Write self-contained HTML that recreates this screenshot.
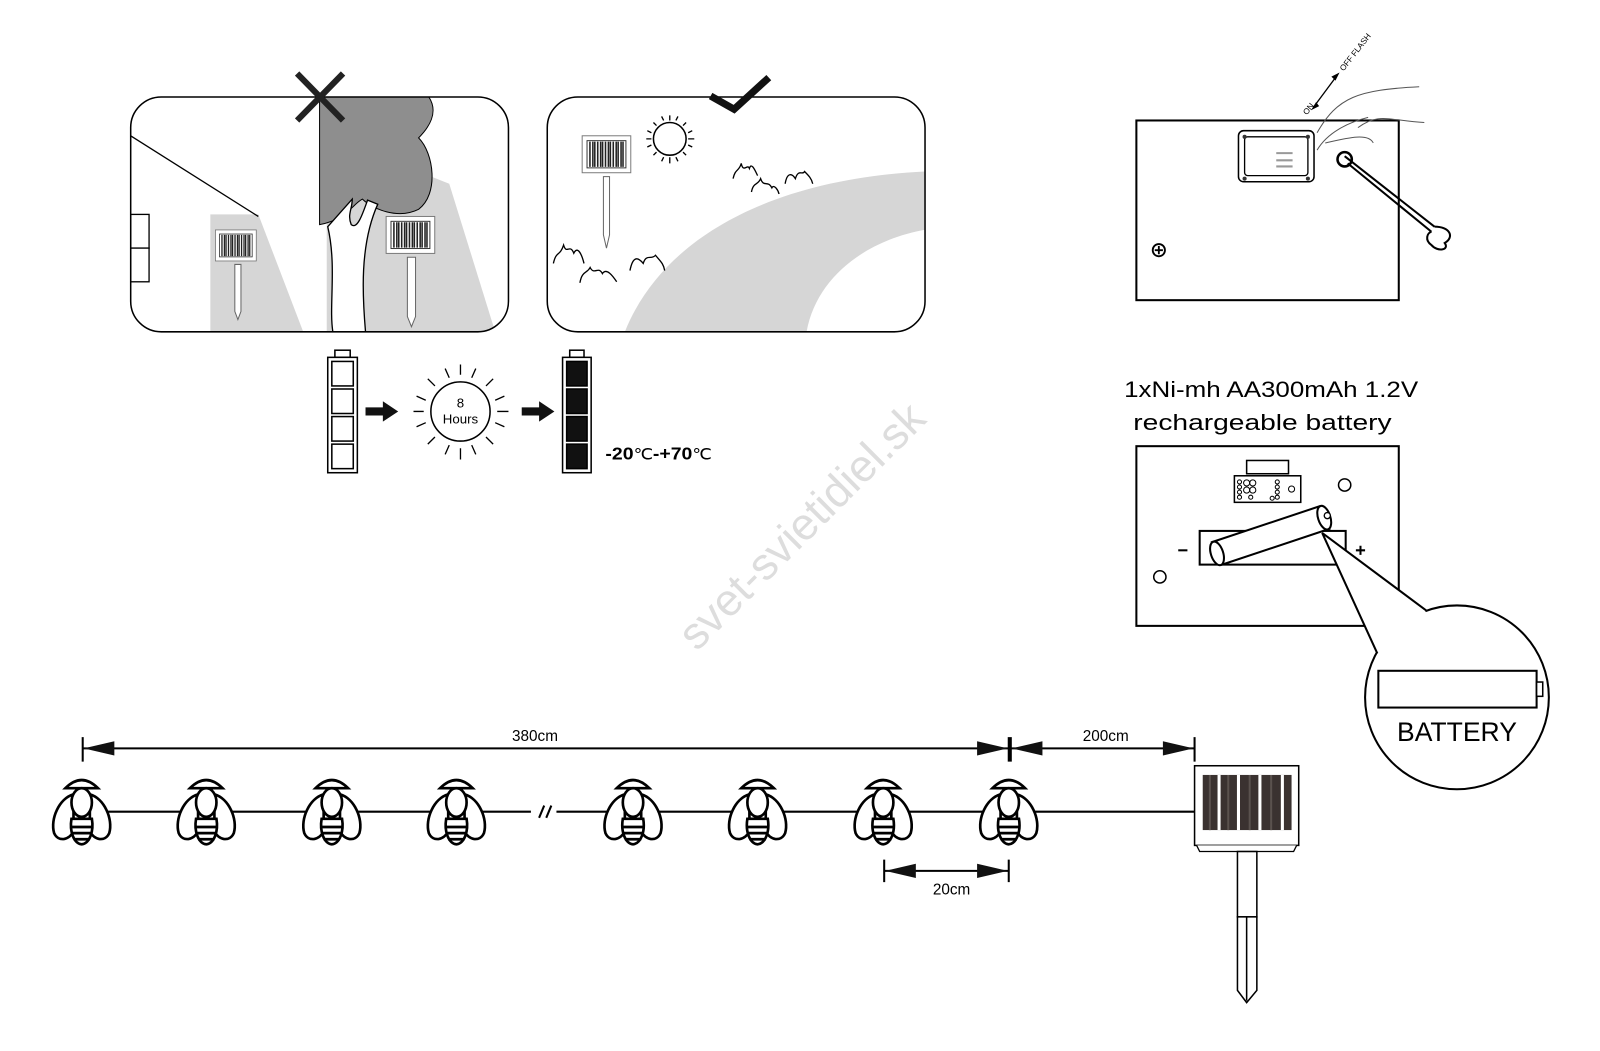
<!DOCTYPE html>
<html><head><meta charset="utf-8"><style>
html,body{margin:0;padding:0;background:#fff;}
svg{display:block;font-family:"Liberation Sans",sans-serif;}
</style></head><body>
<svg width="1600" height="1051" viewBox="0 0 1600 1051" xmlns="http://www.w3.org/2000/svg">
<defs>
<symbol id="bee" viewBox="-30 -36 60 72" overflow="visible">
  <g fill="#fff" stroke="#000" stroke-width="2.6">
    <path d="M-16,-22 Q0,-38 16,-22 Z" />
    <path d="M-8,-16 C-22,-12 -31,8 -27,22 C-23,31 -12,29 -8,20 Z"/>
    <path d="M8,-16 C22,-12 31,8 27,22 C23,31 12,29 8,20 Z"/>
    <path d="M-10,8 C-12,20 -8,32 0,33 C8,32 12,20 10,8 Z"/>
    <ellipse cx="0" cy="-8" rx="10" ry="14"/>
    <path d="M-10,16 H10 M-10,22 H10 M-8,28 H8" fill="none"/>
  </g>
</symbol>
<symbol id="panel" viewBox="0 0 50 42" overflow="visible">
  <rect x="0" y="0" width="50" height="38" fill="#fff" stroke="#777" stroke-width="1"/>
  <rect x="5" y="5" width="40" height="28" fill="#fff" stroke="#333"/>
  <path d="M8,6V32M11,6V32M13,6V32M16,6V32M19,6V32M21,6V32M24,6V32M27,6V32M29,6V32M32,6V32M35,6V32M37,6V32M40,6V32M42,6V32" stroke="#222" stroke-width="1.6"/>
</symbol>
<clipPath id="c1"><rect x="128" y="95" width="370" height="230" rx="30"/></clipPath>
<clipPath id="c2"><rect x="536" y="95" width="370" height="230" rx="30"/></clipPath>
</defs>
<g transform="scale(1.021)">

<g>
  <rect x="128" y="95" width="370" height="230" rx="30" fill="#fff"/>
  <g clip-path="url(#c1)">
    <path d="M206,210 H253 L297,325 H206 Z" fill="#d6d6d6"/>
    <path d="M415,170 L440,180 L485,325 H320 L320,200 Z" fill="#d6d6d6"/>
    <path d="M313,95 H420 C430,110 420,125 410,135 C425,150 430,190 410,205 C390,215 365,205 355,195 C345,200 340,215 313,220 Z" fill="#8e8e8e" stroke="#000" stroke-width="1"/>
    <path d="M321,222 C330,260 322,300 326,325 H358 C355,290 352,240 370,200 L360,196 C355,210 350,225 344,220 C340,210 345,205 345,195 Z" fill="#fff" stroke="#000" stroke-width="1.3"/>
    <path d="M128,133 L253,212" stroke="#000" stroke-width="1.3"/>
    <rect x="128" y="210" width="18" height="33" fill="#fff" stroke="#000" stroke-width="1.3"/>
    <rect x="128" y="243" width="18" height="33" fill="#fff" stroke="#000" stroke-width="1.3"/>
    <use href="#panel" x="211" y="225" width="40" height="34"/>
    <path d="M230,259 V305 L233,313 L236,305 V259 Z" fill="#fff" stroke="#666"/>
    <use href="#panel" x="378" y="212" width="48" height="40"/>
    <path d="M399,252 V310 L403,320 L407,310 V252 Z" fill="#fff" stroke="#666"/>
  </g>
  <rect x="128" y="95" width="370" height="230" rx="30" fill="none" stroke="#000" stroke-width="1.5"/>
  <path d="M291,72 L336,118 M336,72 L291,118" stroke="#222" stroke-width="6"/>
</g>

<g>
  <g clip-path="url(#c2)">
    <path d="M612,325 C650,230 760,175 906,168 V225 C850,235 800,270 790,325 Z" fill="#d6d6d6"/>
    <use href="#panel" x="569" y="133" width="50" height="40"/>
    <path d="M591,173 V230 L594,243 L597,230 V173 Z" fill="#fff" stroke="#666"/>
    <circle cx="656" cy="136" r="16" fill="#fff" stroke="#000" stroke-width="1.5"/>
    <g stroke="#000" stroke-width="1.3">
      <path d="M656,113V118M656,154V160M633,136H638M674,136H680M640,120L643,123M669,149L672,152M672,120L669,123M640,152L643,149M648,114L650,118M664,114L662,118M648,158L650,154M664,158L662,154M634,128L638,130M634,144L638,142M678,128L674,130M678,144L674,142"/>
    </g>
    <g fill="none" stroke="#000" stroke-width="1.3">
      <path d="M718,175 C720,165 724,168 726,160 C728,170 732,160 734,165 C736,158 740,168 742,172"/>
      <path d="M736,188 C738,178 742,182 745,175 C748,184 752,176 756,184 C758,180 762,186 763,190"/>
      <path d="M769,180 C771,168 776,170 779,175 C782,165 786,172 788,168 C792,172 795,175 796,180"/>
      <path d="M542,258 C545,245 548,252 552,240 C555,250 558,238 562,248 C566,240 570,250 572,258"/>
      <path d="M568,277 C570,265 575,268 578,262 C582,270 586,260 590,268 C594,262 600,270 604,276"/>
      <path d="M617,265 C620,250 625,252 630,258 C633,248 638,255 642,250 C646,255 650,258 651,265"/>
    </g>
  </g>
  <rect x="536" y="95" width="370" height="230" rx="30" fill="none" stroke="#000" stroke-width="1.5"/>
  <path d="M696,94 L719,107 L753,76" fill="none" stroke="#111" stroke-width="7"/>
</g>

<g stroke="#000" stroke-width="1.5" fill="#fff">
  <rect x="328" y="343" width="15" height="7"/>
  <rect x="321" y="350" width="29" height="113"/>
  <rect x="325" y="354" width="21" height="24"/>
  <rect x="325" y="381" width="21" height="24"/>
  <rect x="325" y="408" width="21" height="24"/>
  <rect x="325" y="435" width="21" height="24"/>
  <rect x="558" y="343" width="14" height="7"/>
  <rect x="551" y="350" width="28" height="113"/>
  <rect x="555" y="354" width="20" height="24" fill="#111"/>
  <rect x="555" y="381" width="20" height="24" fill="#111"/>
  <rect x="555" y="408" width="20" height="24" fill="#111"/>
  <rect x="555" y="435" width="20" height="24" fill="#111"/>
  <circle cx="451" cy="403" r="29"/>
</g>
<g stroke="#000" stroke-width="1.3">
  <path d="M451,357V367M451,439V450M405,403H415M487,403H498M419,371L426,378M476,428L483,435M483,371L476,378M419,435L426,428M436,361L440,370M466,361L462,370M436,445L440,436M466,445L462,436M408,388L417,392M408,418L417,414M494,388L485,392M494,418L485,414"/>
</g>
<path d="M358,399 H375 V393 L390,403 L375,413 V407 H358 Z" fill="#111"/>
<path d="M511,399 H528 V393 L543,403 L528,413 V407 H511 Z" fill="#111"/>
<text x="451" y="399" font-size="13" text-anchor="middle">8</text>
<text x="451" y="415" font-size="13" text-anchor="middle">Hours</text>
<text x="593" y="450" font-size="17" font-weight="bold" textLength="104" lengthAdjust="spacingAndGlyphs">-20<tspan font-weight="normal" font-size="15">℃</tspan>-+70<tspan font-weight="normal" font-size="15">℃</tspan></text>

<text x="785" y="530" font-size="44" fill="#ddd" text-anchor="middle" transform="rotate(-45 785 515)">svet-svietidiel.sk</text>

<rect x="1113" y="118" width="257" height="176" fill="#fff" stroke="#000" stroke-width="2"/>
<rect x="1213" y="128" width="74" height="50" rx="5" fill="#fff" stroke="#000" stroke-width="1.5"/>
<rect x="1219" y="134" width="62" height="38" rx="3" fill="none" stroke="#000" stroke-width="1.3"/>
<g fill="#333"><circle cx="1219" cy="134" r="2"/><circle cx="1281" cy="134" r="2"/><circle cx="1219" cy="175" r="2"/><circle cx="1281" cy="175" r="2"/></g>
<path d="M1250,150h16M1250,157h16M1250,163h16" stroke="#999" stroke-width="2"/>
<circle cx="1135" cy="245" r="6" fill="#fff" stroke="#000" stroke-width="1.8"/>
<path d="M1131,245h8M1135,241v8" stroke="#000" stroke-width="1.8"/>
<circle cx="1317" cy="156" r="7" fill="#fff" stroke="#000" stroke-width="2.5"/>
<path d="M1317,153 L1405,222 M1320,160 L1402,227" stroke="#000" stroke-width="2"/>
<path d="M1405,222 C1420,222 1425,232 1415,238 C1420,245 1408,247 1402,240 C1395,235 1398,228 1402,227" fill="none" stroke="#000" stroke-width="2"/>
<path d="M1290,147 C1300,130 1320,120 1340,115 M1290,130 C1310,95 1330,88 1390,85 M1298,140 C1320,135 1340,130 1345,140 M1330,125 C1350,110 1360,118 1395,120" fill="none" stroke="#555" stroke-width="1"/>
<path d="M1288,103 L1308,76" stroke="#000" stroke-width="1.3"/>
<path d="M1284,108 L1292,104 L1289,100 Z M1312,71 L1304,75 L1308,79 Z" fill="#000"/>
<text x="1280" y="113" font-size="8" transform="rotate(-52 1280 113)">ON</text>
<text x="1316" y="70" font-size="8" transform="rotate(-52 1316 70)">OFF FLASH</text>

<text x="1101" y="389" font-size="22" textLength="288" lengthAdjust="spacingAndGlyphs">1xNi-mh AA300mAh 1.2V</text>
<text x="1110" y="421" font-size="22" textLength="253" lengthAdjust="spacingAndGlyphs">rechargeable battery</text>

<rect x="1113" y="437" width="257" height="176" fill="#fff" stroke="#000" stroke-width="2"/>
<rect x="1221" y="451" width="41" height="13" fill="#fff" stroke="#000" stroke-width="1.5"/>
<rect x="1209" y="466" width="65" height="26" fill="#fff" stroke="#000" stroke-width="1.5"/>
<g fill="none" stroke="#000" stroke-width="1"><circle cx="1214" cy="472" r="2"/><circle cx="1214" cy="477" r="2"/><circle cx="1214" cy="482" r="2"/><circle cx="1214" cy="487" r="2"/><circle cx="1221" cy="473" r="3"/><circle cx="1227" cy="473" r="3"/><circle cx="1221" cy="480" r="3"/><circle cx="1227" cy="480" r="3"/><circle cx="1225" cy="487" r="2"/><circle cx="1251" cy="472" r="2"/><circle cx="1251" cy="477" r="2"/><circle cx="1251" cy="482" r="2"/><circle cx="1251" cy="487" r="2"/><circle cx="1246" cy="488" r="2"/><circle cx="1265" cy="479" r="3"/></g>
<circle cx="1317" cy="475" r="6" fill="none" stroke="#000" stroke-width="1.5"/>
<circle cx="1136" cy="565" r="6" fill="none" stroke="#000" stroke-width="1.5"/>
<rect x="1175" y="520" width="143" height="33" fill="#fff" stroke="#000" stroke-width="2"/>
<path d="M1154,539h9" stroke="#000" stroke-width="2"/>
<path d="M1328,539h9M1332.5,534.5v9" stroke="#000" stroke-width="2"/>
<g stroke="#000" stroke-width="2" fill="#fff">
  <path d="M1187,531 L1292,496 L1302,518 L1197,553 Z"/>
  <ellipse cx="1192" cy="542" rx="6" ry="12" transform="rotate(-18 1192 542)"/>
  <ellipse cx="1297" cy="507" rx="6" ry="12" transform="rotate(-18 1297 507)"/>
</g>
<circle cx="1300" cy="505" r="3" fill="#fff" stroke="#000" stroke-width="1.3"/>
<circle cx="1427" cy="683" r="90" fill="#fff" stroke="#000" stroke-width="2"/>
<path d="M1349,640 L1295,522 L1397,598" fill="#fff" stroke="#000" stroke-width="2"/>
<path d="M1351,643 L1397,600" stroke="#fff" stroke-width="6"/>
<rect x="1350" y="657" width="155" height="36" fill="#fff" stroke="#000" stroke-width="2"/>
<rect x="1505" y="668" width="6" height="14" fill="#fff" stroke="#000" stroke-width="1.5"/>
<text x="1427" y="726" font-size="26" text-anchor="middle">BATTERY</text>

<path d="M80,795 H520 M545,795 H1170" stroke="#000" stroke-width="2"/>
<path d="M528,801 L533,789 M535,801 L540,789" stroke="#000" stroke-width="2"/>
<use href="#bee" x="50" y="758" width="60" height="72"/>
<use href="#bee" x="172" y="758" width="60" height="72"/>
<use href="#bee" x="295" y="758" width="60" height="72"/>
<use href="#bee" x="417" y="758" width="60" height="72"/>
<use href="#bee" x="590" y="758" width="60" height="72"/>
<use href="#bee" x="712" y="758" width="60" height="72"/>
<use href="#bee" x="835" y="758" width="60" height="72"/>
<use href="#bee" x="958" y="758" width="60" height="72"/>

<g stroke="#000" stroke-width="2">
  <path d="M81,722 V746 M988,722 V746 M990,722 V746 M1170,722 V746 M81,733 H1170"/>
  <path d="M866,842 V864 M988,842 V864 M866,853 H988"/>
</g>
<g fill="#111">
  <path d="M82,733 L112,726 L112,740 Z"/>
  <path d="M987,733 L957,726 L957,740 Z"/>
  <path d="M991,733 L1021,726 L1021,740 Z"/>
  <path d="M1169,733 L1139,726 L1139,740 Z"/>
  <path d="M867,853 L897,846 L897,860 Z"/>
  <path d="M987,853 L957,846 L957,860 Z"/>
</g>
<text x="524" y="726" font-size="15" text-anchor="middle">380cm</text>
<text x="1083" y="726" font-size="15" text-anchor="middle">200cm</text>
<text x="932" y="876" font-size="15" text-anchor="middle">20cm</text>

<rect x="1170" y="750" width="102" height="78" fill="#fff" stroke="#000" stroke-width="1.5"/>
<path d="M1172,828 L1175,834 H1267 L1270,828" fill="#fff" stroke="#000" stroke-width="1.3"/>
<rect x="1178" y="759" width="87" height="54" fill="#3a3230"/>
<path d="M1194,759V813M1213,759V813M1234,759V813M1256,759V813" stroke="#fff" stroke-width="3"/>
<path d="M1185,759V813M1203,759V813M1224,759V813M1245,759V813" stroke="#5a524e" stroke-width="2"/>
<rect x="1212" y="834" width="19" height="64" fill="#fff" stroke="#000" stroke-width="1.5"/>
<path d="M1212,898 V970 L1221,982 L1231,970 V898 Z M1221,898 V980" fill="#fff" stroke="#000" stroke-width="1.5"/>
</g>
</svg>
</body></html>
